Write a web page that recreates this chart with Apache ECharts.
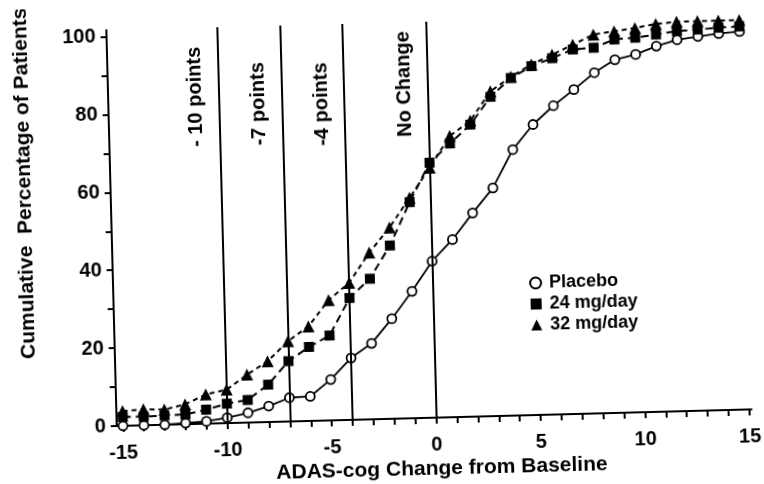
<!DOCTYPE html>
<html>
<head>
<meta charset="utf-8">
<script src="https://cdn.jsdelivr.net/npm/echarts@6/dist/echarts.min.js"></script>
<style>
  html, body { margin: 0; padding: 0; background: #fff; overflow: hidden; }
  #chart { width: 764px; height: 484px; transform: rotate(-1.5deg); transform-origin: 382px 242px; }
</style>
</head>
<body>
<div id="chart"></div>
<script>
// ADAS-cog change from baseline (x) and cumulative % of patients per arm
const changeFromBaseline = [-15, -14, -13, -12, -11, -10, -9, -8, -7, -6, -5, -4, -3, -2, -1, 0, 1, 2, 3, 4, 5, 6, 7, 8, 9, 10, 11, 12, 13, 14, 15];
const placebo = [0, 0, 0, 0.3, 0.6, 1.4, 2.5, 4.1, 6.1, 6.3, 10.5, 15.9, 19.5, 25.7, 32.6, 40.2, 45.6, 52.3, 58.6, 68.3, 74.6, 79.3, 83.3, 87.5, 90.7, 91.9, 93.9, 95.4, 96.1, 96.7, 97.1];
const dose24 = [2.3, 2.2, 2.4, 2.5, 3.6, 5.0, 5.8, 9.6, 15.5, 19.0, 21.8, 31.3, 36.1, 44.5, 55.5, 65.5, 70.3, 75.0, 82.0, 86.7, 89.6, 91.5, 93.6, 93.9, 95.9, 96.2, 96.9, 97.6, 97.9, 98.2, 98.4];
const dose32 = [3.8, 4.1, 3.9, 5.1, 7.5, 8.6, 12.3, 15.6, 20.6, 24.3, 30.9, 35.2, 42.8, 49.1, 56.6, 64.2, 72.2, 76.0, 83.4, 87.0, 90.0, 92.4, 94.8, 97.3, 98.0, 98.7, 99.6, 100, 100, 100, 100];
const seriesNames = ['Placebo', '24 mg/day', '32 mg/day'];

// axis ticks and labels
const xTickValues = [-15, -14, -13, -12, -11, -10, -9, -8, -7, -6, -5, -4, -3, -2, -1, 0, 1, 2, 3, 4, 5, 6, 7, 8, 9, 10, 11, 12, 13, 14, 15];
const xLabelValues = [-15, -10, -5, 0, 5, 10, 15];
const yTickValues = [0, 10, 20, 30, 40, 50, 60, 70, 80, 90, 100];
const yLabelValues = [0, 20, 40, 60, 80, 100];

// reference thresholds drawn as vertical lines
const thresholds = [-10, -7, -4, 0];
const thresholdLabels = ['- 10 points', '-7 points', '-4 points', 'No Change'];

const FONT = "'Liberation Sans', Arial, Helvetica, sans-serif";
const pairs = vals => changeFromBaseline.map((x, i) => [x, vals[i]]);

// gap from the top of each line to the end of its label, in px
const labelTopGaps = [19, 36, 38, 9];

const chart = echarts.init(document.getElementById('chart'), null, { renderer: 'canvas' });
chart.setOption({
  animation: false,
  backgroundColor: '#fff',
  textStyle: { fontFamily: FONT, color: '#000' },
  grid: { left: 112, right: 17, top: 23, bottom: 65, outerBoundsMode: 'none', containLabel: false },
  legend: {
    orient: 'vertical',
    left: 528,
    top: 278,
    padding: 0,
    itemGap: 3,
    itemWidth: 11,
    itemHeight: 11,
    selectedMode: false,
    textStyle: { fontFamily: FONT, fontSize: 18, fontWeight: 'bold', color: '#000', lineHeight: 12, padding: [0, 0, 0, 3] },
    data: [
      { name: seriesNames[0], icon: 'emptyCircle', itemStyle: { color: '#000', borderColor: '#000', borderWidth: 2 } },
      { name: seriesNames[1], icon: 'rect', itemStyle: { color: '#000' } },
      { name: seriesNames[2], icon: 'triangle', itemStyle: { color: '#000' } }
    ]
  },
  xAxis: {
    type: 'value',
    min: -15.3,
    max: 15.1,
    name: 'ADAS-cog Change from Baseline',
    nameLocation: 'middle',
    nameGap: 41,
    nameMoveOverlap: false,
    nameTextStyle: { fontFamily: FONT, fontSize: 21, fontWeight: 'bold', color: '#000', padding: [0, 0, 0, 13] },
    axisLine: { show: true, onZero: false, lineStyle: { color: '#000', width: 2 } },
    axisTick: { show: true, customValues: xTickValues, length: 6, inside: false, lineStyle: { color: '#000', width: 2 } },
    axisLabel: { customValues: xLabelValues, margin: 17, fontFamily: FONT, fontSize: 20, fontWeight: 'bold', color: '#000' },
    splitLine: { show: false }
  },
  yAxis: {
    type: 'value',
    min: 0,
    max: 101.7,
    name: 'Cumulative  Percentage of Patients',
    nameLocation: 'middle',
    nameGap: 75,
    nameMoveOverlap: false,
    nameTextStyle: { fontFamily: FONT, fontSize: 21, fontWeight: 'bold', color: '#000', padding: [0, 0, 0, 94] },
    axisLine: { show: true, onZero: false, lineStyle: { color: '#000', width: 2 } },
    axisTick: { show: true, customValues: yTickValues, length: 6, inside: false, lineStyle: { color: '#000', width: 2 } },
    axisLabel: { customValues: yLabelValues, margin: 11, fontFamily: FONT, fontSize: 20, fontWeight: 'bold', color: '#000' },
    splitLine: { show: false }
  },
  series: [
    {
      name: seriesNames[0],
      type: 'line',
      data: pairs(placebo),
      z: 2,
      symbol: 'circle',
      symbolSize: 9,
      showAllSymbol: true,
      lineStyle: { color: '#000', width: 1.8 },
      itemStyle: { color: '#fff', borderColor: '#000', borderWidth: 1.8 },
      markLine: {
        silent: true,
        symbol: 'none',
        animation: false,
        lineStyle: { color: '#000', width: 2, type: 'solid' },
        label: {
          show: true,
          position: 'insideEndTop',
          formatter: '{b}',
          fontFamily: FONT,
          fontSize: 20,
          fontWeight: 'bold',
          color: '#000'
        },
        data: thresholds.map((v, i) => ({
          xAxis: v,
          name: thresholdLabels[i],
          label: { distance: [labelTopGaps[i], 13] }
        }))
      }
    },
    {
      name: seriesNames[1],
      type: 'line',
      data: pairs(dose24),
      z: 3,
      symbol: 'rect',
      symbolSize: 10,
      showAllSymbol: true,
      lineStyle: { color: '#000', width: 2, type: [8, 5] },
      itemStyle: { color: '#000' }
    },
    {
      name: seriesNames[2],
      type: 'line',
      data: pairs(dose32),
      z: 4,
      symbol: 'triangle',
      symbolSize: 12,
      showAllSymbol: true,
      lineStyle: { color: '#000', width: 2, type: [5, 4] },
      itemStyle: { color: '#000' }
    }
  ]
});
</script>
</body>
</html>
